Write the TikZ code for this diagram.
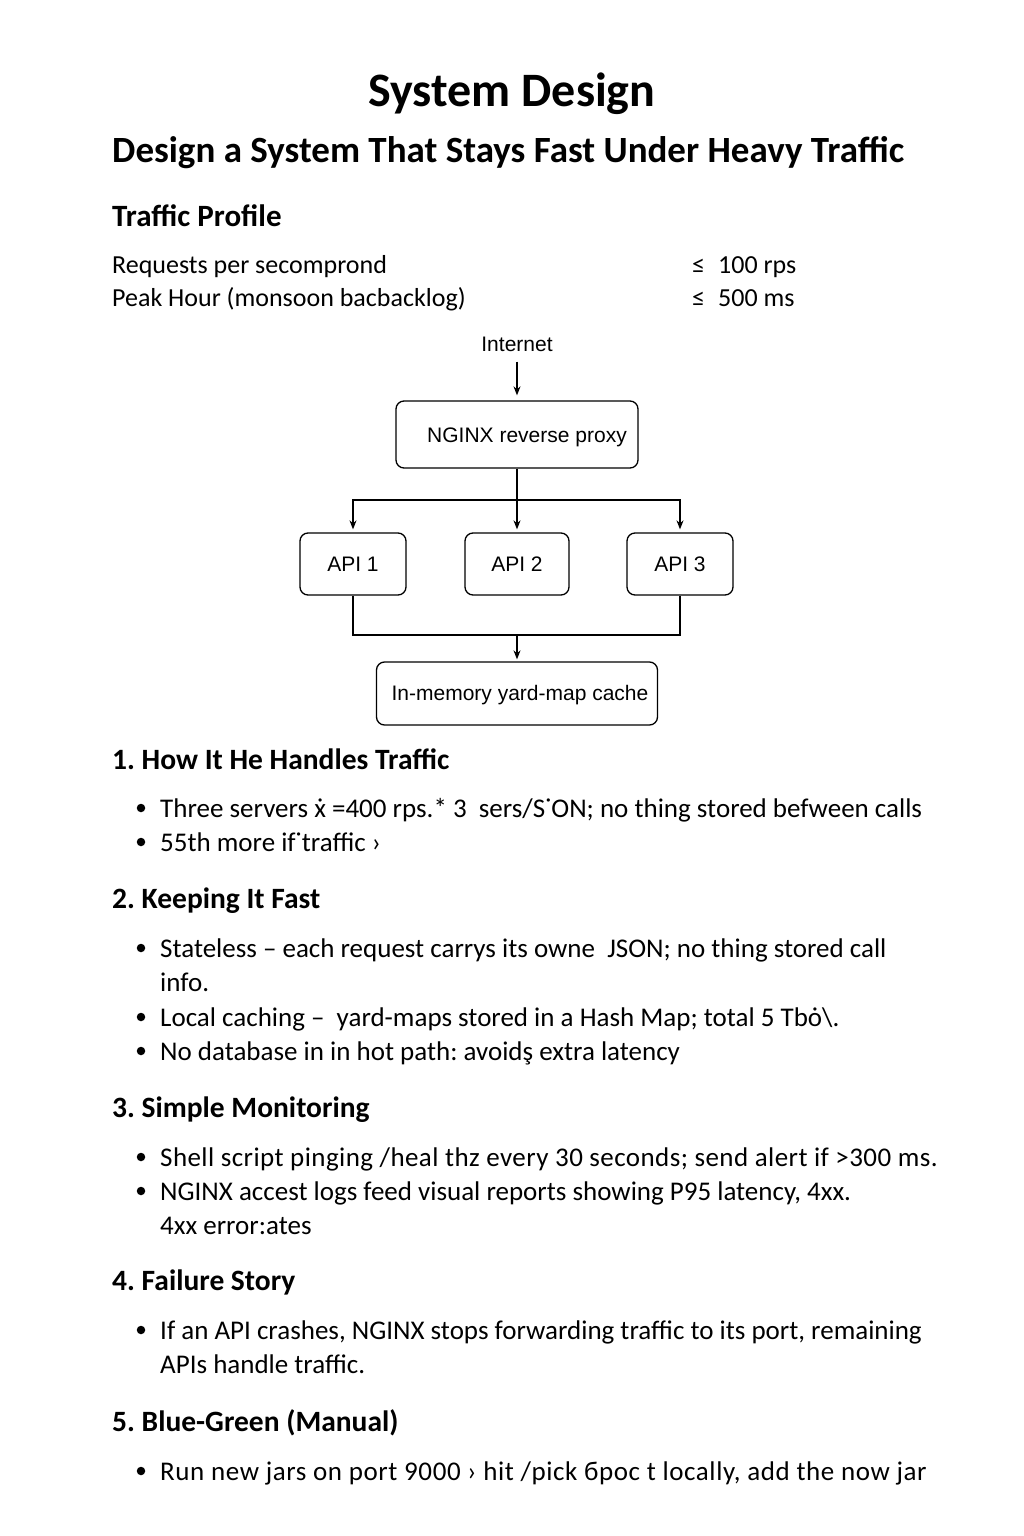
\documentclass[tikz,border=0pt]{standalone}
\usepackage{fontspec}
\setmainfont{Carlito}
\newfontfamily\diagfont{Liberation Sans}
\usetikzlibrary{arrows.meta}
\frenchspacing
\begin{document}
\begin{tikzpicture}[x=1pt,y=-1pt,
  row/.style={anchor=base west, inner sep=0pt, font=\fontsize{26}{30}\selectfont},
  txt/.style={anchor=base west, inner sep=0pt, font=\fontsize{27}{32}\selectfont},
  head/.style={anchor=base west, inner sep=0pt, font=\fontsize{29.5}{34}\selectfont\bfseries},
  dot/.style={circle, fill=black, inner sep=0pt, minimum size=8.5pt},
  box/.style={draw, line width=1.3pt, rounded corners=8pt, inner sep=0pt, font=\diagfont\fontsize{21}{24}\selectfont},
  boxlbl/.style={label distance=0pt, font=\diagfont\fontsize{21}{24}\selectfont, inner sep=0pt},
  arr/.style={line width=1.3pt, -{Stealth[length=9pt,width=7pt]}},
  ln/.style={line width=1.3pt}
]
\path[fill=white] (0,0) rectangle (1024,1536);
\useasboundingbox (0,0) rectangle (1024,1536);

% titles
\node[anchor=base, inner sep=0pt, font=\fontsize{48}{54}\selectfont\bfseries] (title) at (512,107) {System Design};
\node[anchor=base west, inner sep=0pt, font=\fontsize{37}{42}\selectfont\bfseries] (subtitle) at (112,162) {Design a System That Stays Fast Under Heavy Traffic};
\node[anchor=base west, inner sep=0pt, font=\fontsize{31}{36}\selectfont\bfseries] (profile) at (112,226) {Traffic Profile};
\node[row] (r1) at (112,273) {Requests per secomprond};
\node[row] (r2) at (112,306) {Peak Hour (monsoon bacbacklog)};
\node[row] (v1) at (692,273) {≤\enspace 100 rps};
\node[row] (v2) at (692,306) {≤\enspace 500 ms};

% diagram
\node[inner sep=0pt, font=\diagfont\fontsize{21}{24}\selectfont] (inet) at (517,344) {Internet};
\node[box, minimum width=242pt, minimum height=67pt,
  label={[boxlbl, xshift=10pt, yshift=-3pt]center:NGINX reverse proxy}] (nginx) at (517,434.5) {};
\node[box, minimum width=106pt, minimum height=62pt] (api1) at (353,564) {API 1};
\node[box, minimum width=104pt, minimum height=62pt] (api2) at (517,564) {API 2};
\node[box, minimum width=106pt, minimum height=62pt] (api3) at (680,564) {API 3};
\node[box, minimum width=281pt, minimum height=63pt,
  label={[boxlbl, xshift=3pt, yshift=-2pt]center:In-memory yard-map cache}] (cache) at (517,693.5) {};
\coordinate (split) at (517,500);
\coordinate (join) at (517,635);

\draw[arr, shorten <=10pt, shorten >=5pt] (inet) -- (nginx);
\draw[ln] (nginx.south) -- (split);
\draw[arr, shorten >=3pt] (split) -| (api1.north);
\draw[arr, shorten >=3pt] (split) -| (api3.north);
\draw[arr, shorten >=3pt] (split) -- (api2.north);
\draw[ln] (api1.south) |- (join);
\draw[ln] (api3.south) |- (join);
\draw[arr, shorten >=2pt] (join) -- (cache.north);

% section 1
\node[head] (h1) at (112,769) {1. How It He Handles Traffic};
\node[dot] (d11) at (141,808) {};
\node[txt] (b11) at (160,817) {Three servers ẋ =400 rps.* 3 \ sers/S˙ON; no thing stored befween calls};
\node[dot] (d12) at (141,842) {};
\node[txt] (b12) at (160,851) {55th more if˙traffic ›};

% section 2
\node[head] (h2) at (112,908) {2. Keeping It Fast};
\node[dot] (d21) at (141,948) {};
\node[txt] (b21) at (160,957) {Stateless – each request carrys its owne \ JSON; no thing stored call};
\node[txt] (b21b) at (160,991) {info.};
\node[dot] (d22) at (141,1017) {};
\node[txt] (b22) at (160,1026) {Local caching – \ yard-maps stored in a Hash Map; total 5 Tbȯ\textbackslash.};
\node[dot] (d23) at (141,1051) {};
\node[txt] (b23) at (160,1060) {No database in in hot path: avoidş extra latency};

% section 3
\node[head] (h3) at (112,1117) {3. Simple Monitoring};
\node[dot] (d31) at (141,1157) {};
\node[txt] (b31) at (160,1166) {\addfontfeature{LetterSpace=1.6}Shell script pinging /heal thz every 30 seconds; send alert if >300 ms.};
\node[dot] (d32) at (141,1191) {};
\node[txt] (b32) at (160,1200) {NGINX accest logs feed visual reports showing P95 latency, 4xx.};
\node[txt] (b32b) at (160,1234) {4xx error:ates};

% section 4
\node[head] (h4) at (112,1290) {4. Failure Story};
\node[dot] (d41) at (141,1330) {};
\node[txt] (b41) at (160,1339) {If an API crashes, NGINX stops forwarding traffic to its port, remaining};
\node[txt] (b41b) at (160,1373) {APIs handle traffic.};

% section 5
\node[head] (h5) at (112,1431) {5. Blue-Green (Manual)};
\node[dot] (d51) at (141,1471) {};
\node[txt] (b51) at (160,1480) {\addfontfeature{LetterSpace=2.2}Run new jars on port 9000 › hit /pick бpoc t locally, add the now jar};
\end{tikzpicture}
\end{document}
